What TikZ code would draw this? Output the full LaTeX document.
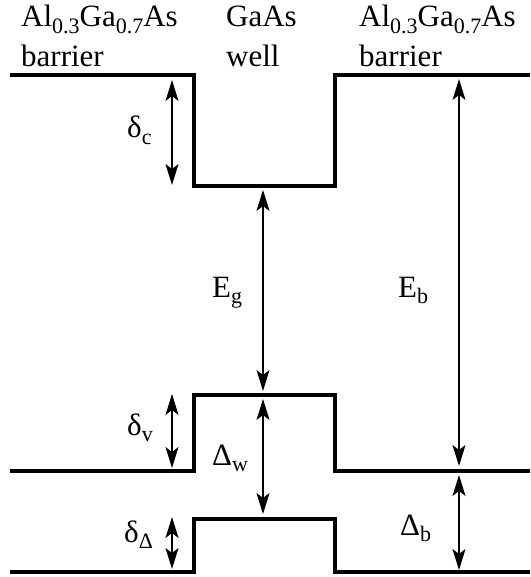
\documentclass[tikz,border=0pt]{standalone}
\usepackage{fontspec}
\setmainfont{Liberation Serif}
\usetikzlibrary{arrows.meta}
\newcommand{\subtxt}[1]{\raisebox{-6.5pt}{\fontsize{22}{22}\selectfont #1}}

\begin{document}
\begin{tikzpicture}[x=1pt,y=-1pt,
  every node/.style={font=\fontsize{31}{40}\selectfont,inner sep=0pt},
  band/.style={line width=4.5pt},
  gap/.style={line width=1.1pt,{Stealth[length=21pt,width=13pt,inset=5pt]}-{Stealth[length=21pt,width=13pt,inset=5pt]}},
  lbl/.style={anchor=base west}]
\useasboundingbox (0,0) rectangle (530,577);
% layer names
\node[lbl,align=left] (leftbar) at (21,67) {Al\subtxt{0.3}Ga\subtxt{0.7}As\\barrier};
\node[lbl,align=left] (midwell) at (226,67) {GaAs\\well};
\node[lbl,align=left] (rightbar) at (359,67) {Al\subtxt{0.3}Ga\subtxt{0.7}As\\barrier};
% band edges
\draw[band] (10,75) -- (194,75) -- (194,186) -- (335,186) -- (335,75) -- (530,75);
\draw[band] (10,471) -- (194,471) -- (194,395) -- (335,395) -- (335,471) -- (530,471);
\draw[band] (10,572) -- (194,572) -- (194,519) -- (335,519) -- (335,572) -- (530,572);
% offsets and gaps
\draw[gap] (172,80) -- (172,185);
\node[lbl] (dc) at (127,138) {δ\subtxt{c}};
\draw[gap] (263,190) -- (263,391);
\node[lbl] (eg) at (212,297) {E\subtxt{g}};
\draw[gap] (459,79) -- (459,466);
\node[lbl] (eb) at (398,297) {E\subtxt{b}};
\draw[gap] (172,394) -- (172,468);
\node[lbl] (dv) at (127,435) {δ\subtxt{v}};
\draw[gap] (263,399) -- (263,514);
\node[lbl] (dw) at (212,465) {Δ\subtxt{w}};
\draw[gap] (172,517) -- (172,569);
\node[lbl] (dd) at (124,542) {δ\subtxt{Δ}};
\draw[gap] (459,475) -- (459,570);
\node[lbl] (db) at (400,535) {Δ\subtxt{b}};
\end{tikzpicture}
\end{document}
